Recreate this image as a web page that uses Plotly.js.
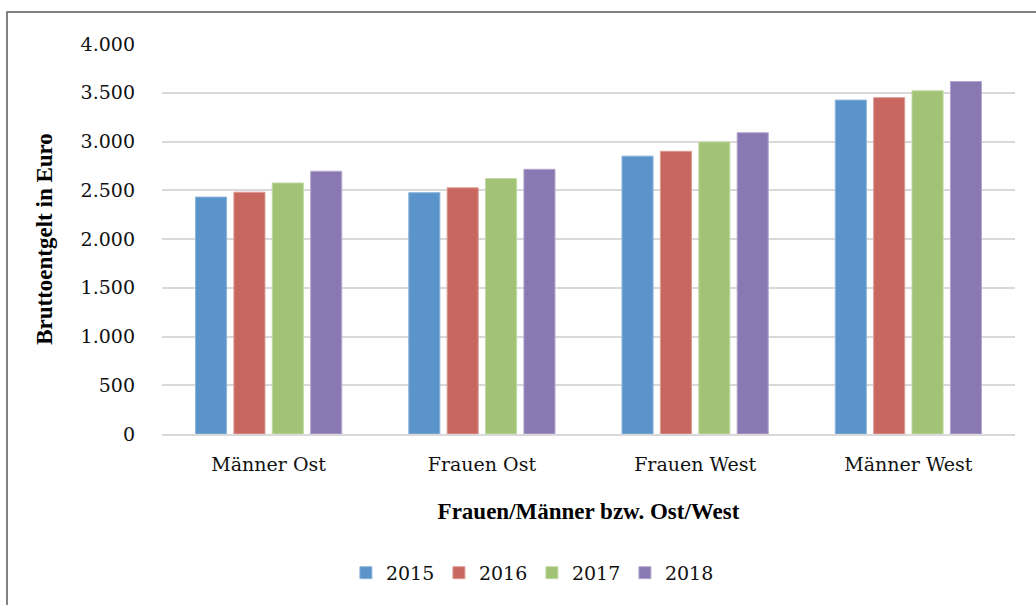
<!DOCTYPE html>
<html>
<head>
<meta charset="utf-8">
<script src="https://cdn.plot.ly/plotly-3.0.1.min.js"></script>
<style>
  html, body { margin: 0; padding: 0; background: #fff; }
  #chart { width: 1036px; height: 605px; }
</style>
</head>
<body>
<div id="chart"></div>
<script>
// Gruppen und Jahre
const categories = ["Männer Ost", "Frauen Ost", "Frauen West", "Männer West"];
const years = ["2015", "2016", "2017", "2018"];

// Bruttoentgelt in Euro
const values2015 = [2430, 2475, 2850, 3425];
const values2016 = [2480, 2525, 2900, 3450];
const values2017 = [2575, 2620, 2995, 3520];
const values2018 = [2695, 2715, 3090, 3615];

const seriesValues = [values2015, values2016, values2017, values2018];
const colors = ["#5A94CA", "#C8675F", "#A2C376", "#8A78B2"];
const outlines = ["#8DB4DC", "#DC9C96", "#C3D9A4", "#B3A7CF"];

const fontFam = "DejaVu Serif";

const traces = years.map((yr, i) => ({
  type: "bar",
  name: yr,
  x: categories,
  y: seriesValues[i],
  marker: { color: colors[i], line: { color: outlines[i], width: 1 } },
  hoverinfo: "x+y+name"
}));

const layout = {
  width: 1036,
  height: 605,
  margin: { l: 162, r: 21, t: 44, b: 171 },
  paper_bgcolor: "#ffffff",
  plot_bgcolor: "#ffffff",
  separators: ",.",
  barmode: "group",
  bargap: 0.28,
  bargroupgap: 0.19,
  font: { family: fontFam, size: 19, color: "#111" },
  xaxis: {
    type: "category",
    showgrid: false,
    showline: true,
    linecolor: "#d9d9d9",
    linewidth: 2,
    ticks: "",
    ticklabelstandoff: 12,
    tickfont: { family: fontFam, size: 19, color: "#111" },
    title: {
      text: "<b>Frauen/Männer bzw. Ost/West</b>",
      font: { family: "Liberation Serif", size: 23, color: "#000" },
      standoff: 29
    }
  },
  yaxis: {
    range: [0, 4000],
    dtick: 500,
    tick0: 0,
    tickformat: ",d",
    showgrid: true,
    gridcolor: "#d9d9d9",
    gridwidth: 2,
    zeroline: false,
    showline: false,
    ticks: "",
    ticklabelstandoff: 26,
    tickfont: { family: fontFam, size: 19, color: "#111" },
    title: {
      text: "<b>Bruttoentgelt in Euro</b>",
      font: { family: "Liberation Serif", size: 23, color: "#000" },
      standoff: 21
    }
  },
  showlegend: true,
  legend: {
    orientation: "h",
    x: 0.2156,
    xanchor: "left",
    y: -0.356,
    yanchor: "middle",
    font: { family: "DejaVu Serif", size: 19, color: "#111" },
    entrywidth: 48,
    entrywidthmode: "pixels",
    itemwidth: 30,
    bgcolor: "rgba(0,0,0,0)"
  },
  shapes: [{
    type: "rect",
    xref: "paper", yref: "paper",
    x0: -155 / 853, x1: 1060 / 853,
    y0: -200 / 390, y1: 1 + 32 / 390,
    line: { color: "#595959", width: 1.5 },
    fillcolor: "rgba(0,0,0,0)",
    layer: "below"
  }]
};

Plotly.newPlot("chart", traces, layout, { displayModeBar: false, staticPlot: true });
</script>
</body>
</html>
